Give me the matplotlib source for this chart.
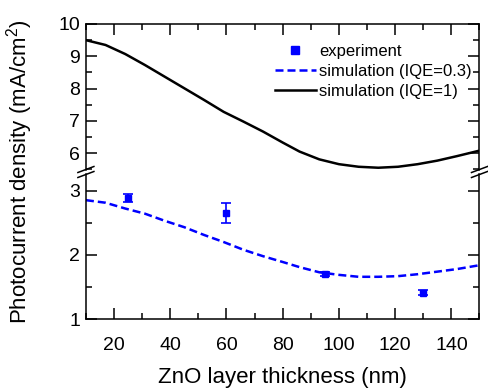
import matplotlib
matplotlib.use("Agg")
import matplotlib.pyplot as plt
from matplotlib.lines import Line2D
from matplotlib.ticker import MultipleLocator

plt.rcParams['font.family'] = ['Liberation Sans', 'DejaVu Sans']
plt.rcParams['mathtext.fontset'] = 'custom'
plt.rcParams['mathtext.rm'] = 'Liberation Sans'
plt.rcParams['mathtext.it'] = 'Liberation Sans:italic'

# experiment
exp_x = [25, 60, 95, 130]
exp_y = [2.88, 2.65, 1.70, 1.41]
exp_err = [0.06, 0.16, 0.03, 0.04]

# simulation curves
sim_x = [10, 17, 24, 31, 38, 45, 52, 59, 66, 73, 80, 86, 93, 100, 107, 114, 121, 128, 135, 142, 150]
sim_iqe03 = [2.85, 2.81, 2.72, 2.64, 2.53, 2.43, 2.31, 2.20, 2.08, 1.98, 1.89, 1.81, 1.73, 1.69,
             1.66, 1.66, 1.67, 1.70, 1.74, 1.78, 1.84]
sim_iqe1 = [9.50, 9.35, 9.07, 8.73, 8.37, 8.01, 7.65, 7.28, 6.98, 6.67, 6.33, 6.05, 5.81, 5.66,
            5.58, 5.55, 5.58, 5.66, 5.77, 5.91, 6.08]

W, H = 489, 388
fig = plt.figure(figsize=(W / 100, H / 100), dpi=100)

left = 85.9 / W
width = (479.5 - 85.9) / W
top_px, brk_top, brk_bot, bot_px = 24, 170, 174, 319.3

ax_top = fig.add_axes([left, 1 - brk_top / H, width, (brk_top - top_px) / H])
ax_bot = fig.add_axes([left, 1 - bot_px / H, width, (bot_px - brk_bot) / H], sharex=ax_top)

blue = '#0000ff'

ax_top.plot(sim_x, sim_iqe1, color='black', lw=1.8)
ax_bot.plot(sim_x, sim_iqe03, color=blue, lw=1.8, dashes=(3.2, 1.6))
ax_bot.errorbar(exp_x, exp_y, yerr=exp_err, fmt='s', color=blue, ms=5,
                capsize=3.8, elinewidth=1.2, capthick=1.2)

ax_top.set_xlim(10, 150)
ax_top.set_ylim(10 - (brk_top - top_px) / 32.3, 10)
ax_bot.set_ylim(1, 1 + (bot_px - brk_bot) / 64.4)

for ax in (ax_top, ax_bot):
    for s in ax.spines.values():
        s.set_linewidth(1.1)
    ax.xaxis.set_major_locator(MultipleLocator(20))
    ax.xaxis.set_minor_locator(MultipleLocator(10))
    ax.yaxis.set_major_locator(MultipleLocator(1))
    ax.yaxis.set_minor_locator(MultipleLocator(0.5))
    ax.tick_params(which='both', direction='in', width=1.1, right=True, labelsize=14, pad=4)
    ax.tick_params(which='major', length=8)
    ax.tick_params(which='minor', length=4)

ax_top.spines['bottom'].set_visible(False)
ax_bot.spines['top'].set_visible(False)
ax_top.tick_params(which='both', top=True, bottom=False, labelbottom=False)
ax_bot.tick_params(which='both', top=False, bottom=True)
ax_bot.tick_params(axis='x', pad=13)
ax_top.set_yticks([6, 7, 8, 9, 10])
ax_bot.set_yticks([1, 2, 3])

ax_bot.set_xlabel('ZnO layer thickness (nm)', fontsize=16, labelpad=9)
fig.text(20 / W, 1 - 171.5 / H, 'Photocurrent density (mA/cm$^2$)', rotation=90,
         ha='center', va='center', fontsize=16)

# break marks on both spines
for xp in (85.9, 479.5):
    for yp in (169.5, 174.5):
        fig.add_artist(Line2D([(xp - 8) / W, (xp + 8) / W],
                              [1 - (yp + 3) / H, 1 - (yp - 3) / H],
                              transform=fig.transFigure, color='black', lw=1.1))

handles = [
    Line2D([], [], ls='none', marker='s', color=blue, ms=6),
    Line2D([], [], color=blue, lw=1.8, dashes=(3.2, 1.6)),
    Line2D([], [], color='black', lw=1.8),
]
labels = ['experiment', 'simulation (IQE=0.3)', 'simulation (IQE=1)']
ax_top.legend(handles, labels, loc='upper left', bbox_to_anchor=(275 / W, 1 - 44 / H),
              bbox_transform=fig.transFigure, frameon=False, fontsize=12,
              handlelength=2.45, handletextpad=0.2, borderpad=0, borderaxespad=0,
              labelspacing=0.3)

fig.savefig('out.png', dpi=100)
